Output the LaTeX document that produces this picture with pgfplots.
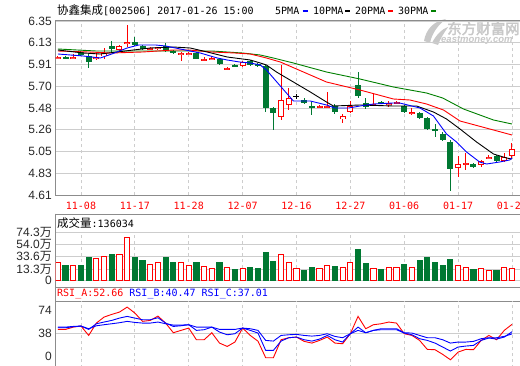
\documentclass[border=0pt]{standalone}
\usepackage{fontspec}
\setmainfont{Liberation Sans}
\newfontfamily\cjk{Noto Sans CJK SC}
\newfontfamily\cjkb{Noto Sans CJK SC}[FakeBold=2.5]
\newfontfamily\mono{DejaVu Sans Mono}
\usepackage{pgfplots}
\usepackage{pgfplotstable}
\pgfplotsset{compat=1.18}
\definecolor{cred}{RGB}{255,0,0}
\definecolor{cgreen}{RGB}{0,120,50}
\definecolor{frame}{RGB}{140,140,140}
\definecolor{gridc}{RGB}{205,205,205}
\definecolor{magreen}{RGB}{0,128,0}
\definecolor{mablue}{RGB}{0,0,255}
\definecolor{txt}{RGB}{40,40,40}
\definecolor{wm}{RGB}{200,200,200}

\pgfplotstableread{
i o c h l
0 5.98 5.99 6.00 5.97
2 5.98 5.99 6.02 5.97
5 5.97 5.99 6.03 5.96
6 6.00 6.03 6.08 5.97
8 6.06 6.10 6.11 6.04
9 6.12 6.14 6.31 6.09
12 6.07 6.08 6.09 6.06
13 6.07 6.09 6.09 6.06
16 6.02 6.03 6.04 5.95
17 6.02 6.03 6.04 6.01
19 5.96 5.97 5.99 5.95
20 5.97 5.98 6.00 5.96
22 5.87 5.88 5.89 5.86
24 5.90 5.94 5.95 5.89
29 5.39 5.56 5.91 5.36
30 5.51 5.58 5.68 5.46
34 5.49 5.50 5.51 5.48
35 5.49 5.50 5.64 5.48
37 5.37 5.40 5.42 5.33
38 5.44 5.50 5.55 5.43
41 5.51 5.52 5.63 5.50
43 5.52 5.53 5.55 5.49
44 5.53 5.54 5.55 5.52
46 5.42 5.44 5.48 5.41
52 4.88 4.92 5.00 4.79
53 4.92 4.93 5.03 4.86
55 4.91 4.95 4.96 4.89
56 4.98 4.99 5.01 4.97
58 4.95 4.99 5.03 4.94
59 5.00 5.07 5.13 4.98
}\up
\pgfplotstableread{
i o c h l
1 5.99 5.98 6.00 5.97
3 6.04 6.01 6.05 6.00
4 6.00 5.94 6.02 5.88
7 6.10 6.07 6.15 6.04
10 6.14 6.11 6.19 6.10
11 6.10 6.07 6.11 6.06
14 6.10 6.05 6.13 6.04
15 6.05 6.03 6.06 6.02
18 6.03 5.97 6.04 5.97
21 5.97 5.92 5.98 5.91
23 5.91 5.90 5.92 5.89
25 5.95 5.91 5.96 5.90
26 5.92 5.90 5.93 5.89
27 5.90 5.48 5.91 5.44
28 5.48 5.43 5.49 5.26
32 5.56 5.53 5.58 5.52
33 5.50 5.49 5.54 5.41
36 5.50 5.44 5.52 5.42
39 5.71 5.60 5.84 5.58
40 5.53 5.49 5.58 5.47
42 5.54 5.53 5.55 5.52
45 5.50 5.44 5.51 5.43
47 5.43 5.38 5.44 5.37
48 5.38 5.27 5.39 5.26
49 5.27 5.26 5.32 5.19
50 5.22 5.16 5.24 5.15
51 5.14 4.87 5.16 4.65
54 4.92 4.89 4.93 4.88
57 5.00 4.95 5.01 4.94
}\dn
\pgfplotstableread{
i o c h l
31 5.60 5.60 5.62 5.57
}\flat

\pgfplotstableread{
i v
0 24.9
2 19.4
5 31.0
6 34.4
8 38.2
9 65.9
12 21.6
13 24.4
16 24.4
17 19.4
19 17.7
20 14.4
22 16.1
24 14.4
29 38.2
30 23.8
31 14.4
34 13.3
35 19.4
37 15.0
38 24.9
41 14.4
43 16.1
44 15.0
46 16.6
52 18.3
53 15.0
55 13.3
56 11.6
58 16.6
59 13.6
}\vup
\pgfplotstableread{
i v
1 19.9
3 19.9
4 31.6
7 36.6
10 31.6
11 26.6
14 31.6
15 24.9
18 23.3
21 24.9
23 12.7
25 15.0
26 13.3
27 40.5
28 25.5
32 11.6
33 15.0
36 17.2
39 44.9
40 22.2
42 12.2
45 20.5
47 26.6
48 33.2
49 24.9
50 18.3
51 29.9
54 12.2
57 10.5
}\vdn

\pgfplotstableread{
i a b c
0 44.4 48.2 47.1
1 44.4 48.2 47.1
2 48.2 49.3 48.8
3 49.9 49.9 49.9
4 34.5 44.4 45.5
5 54.8 53.7 50.4
6 64.7 56.5 52.1
7 69.1 59.2 53.7
8 72.9 63.0 55.4
9 81.1 65.8 57.6
10 71.3 63.0 55.9
11 57.6 60.3 54.8
12 59.2 60.3 54.8
13 66.3 63.6 56.5
14 54.8 54.8 53.7
15 38.9 49.3 51.5
16 42.8 50.4 51.5
17 46.6 52.1 52.1
18 27.4 42.8 48.2
19 27.4 43.9 48.2
20 38.9 48.2 48.2
21 21.9 40.0 44.4
22 16.4 35.6 44.4
23 23.6 37.3 44.4
24 46.6 46.6 46.6
25 34.5 42.8 45.5
26 25.0 38.4 42.8
27 -2.2 9.9 26.3
28 -2.2 9.9 25.2
29 27.4 25.2 34.5
30 30.7 30.7 35.6
31 31.8 31.8 36.2
32 24.7 27.4 34.5
33 21.9 25.2 33.4
34 26.3 28.5 34.5
35 31.8 34.5 37.3
36 21.9 27.4 32.9
37 20.8 23.6 30.7
38 37.3 37.3 37.3
39 65.8 48.2 42.8
40 45.5 38.9 38.9
41 52.1 42.8 42.8
42 53.7 43.9 45.5
43 56.5 43.9 45.5
44 54.8 43.9 45.5
45 37.3 38.4 38.9
46 34.5 35.6 38.4
47 26.3 29.1 34.5
48 11.5 26.3 30.7
49 11.0 21.9 30.7
50 3.3 15.4 27.4
51 -5.5 8.8 21.9
52 7.1 15.4 23.6
53 11.5 17.0 23.6
54 11.0 18.1 24.7
55 26.3 26.3 29.1
56 34.5 30.2 30.7
57 27.4 28.5 30.7
58 42.8 31.8 32.9
59 52.66 40.47 37.01
}\rsi

\pgfplotsset{
  panel/.style={
    scale only axis, width=466pt,
    xmin=-0.312, xmax=60.24,
    axis line style={draw=frame, line width=1pt},
    tick style={draw=none},
    xtick={3,10,...,59},
    xmajorgrids,
    x grid style={draw=gridc, dash pattern=on 3pt off 3pt, line width=0.8pt},
    y grid style={draw=gridc, line width=0.8pt},
    yticklabel style={anchor=east, inner sep=0pt, xshift=-3.5pt, font=\fontsize{12}{14}\selectfont, text=txt},
  },
  wick/.style={only marks, mark=*, mark size=0pt, mark options={draw=none,fill=none},
    error bars/.cd, y dir=both, y explicit, error mark=none,
    error bar style={line width=1pt, draw=#1}},
  body/.style 2 args={only marks, mark=*, mark size=0pt, mark options={draw=none,fill=none},
    error bars/.cd, y dir=both, y explicit, error mark=none,
    error bar style={line width=#2, draw=#1}},
}

\begin{document}
\begin{tikzpicture}[x=1pt,y=1pt]
\fill[white] (0,0) rectangle (520,365);
% watermark
\fill[wm] (424,324) .. controls (426,336) and (434,344) .. (446,346) .. controls (438,340) and (432,332) .. (430,322) -- cycle;
\fill[wm] (432,322) .. controls (436,330) and (442,336) .. (448,338) .. controls (444,332) and (440,326) .. (438,320) -- cycle;
\node[anchor=west, inner sep=0pt, text=wm, font=\cjkb\fontsize{14.5}{15}\selectfont] at (447,336.5) {东方财富网};
\node[anchor=west, inner sep=0pt, text=wm, font=\bfseries\itshape\fontsize{9.5}{10}\selectfont] at (441,325) {eastmoney.com};
% title
\node[anchor=west, inner sep=0pt] at (57,355) {{\cjk\fontsize{11.5}{12}\selectfont 协鑫集成}{\mono\fontsize{10}{12}\selectfont[002506] 2017-01-26 15:00}};
\node[anchor=west, inner sep=0pt, font=\mono\fontsize{10}{12}\selectfont] at (275,354.5) {5PMA};
\node[anchor=west, inner sep=0pt, font=\mono\fontsize{10}{12}\selectfont] at (313,354.5) {10PMA};
\node[anchor=west, inner sep=0pt, font=\mono\fontsize{10}{12}\selectfont] at (355,354.5) {20PMA};
\node[anchor=west, inner sep=0pt, font=\mono\fontsize{10}{12}\selectfont] at (398,354.5) {30PMA};
\draw[mablue, line width=2pt] (302.5,354) -- (307.5,354);
\draw[black, line width=2pt] (345,354) -- (350,354);
\draw[cred, line width=2pt] (388,354) -- (393,354);
\draw[magreen, line width=2pt] (431,354) -- (436,354);

% ---------- panel frames ----------
\draw[frame, line width=1pt] (55.5,151) -- (522,151);
\draw[frame, line width=1pt] (55.5,133) -- (522,133);
\draw[frame, line width=1pt] (55.5,78) -- (522,78);
\draw[frame, line width=1pt] (55.5,64) -- (522,64);
\draw[frame, line width=1pt] (55.5,151.5) -- (55.5,-2);
\node[anchor=west, inner sep=0pt] at (57,142) {{\cjk\fontsize{11.5}{12}\selectfont 成交量}{\mono\fontsize{10}{12}\selectfont :136034}};
\node[anchor=west, inner sep=0pt, font=\mono\fontsize{10}{12}\selectfont] at (57,71) {\textcolor{cred}{RSI\_A:52.66} \textcolor{mablue}{RSI\_B:40.47} \textcolor{mablue}{RSI\_C:37.01}};
% RSI tick labels
\node[anchor=east, inner sep=0pt, text=txt, font=\fontsize{12}{14}\selectfont] at (52,54.3) {74};
\node[anchor=east, inner sep=0pt, text=txt, font=\fontsize{12}{14}\selectfont] at (52,31.7) {38};
\node[anchor=east, inner sep=0pt, text=txt, font=\fontsize{12}{14}\selectfont] at (52,8.6) {0};
\draw[gridc, line width=0.8pt] (56,31.7) -- (522,31.7);

% ---------- price panel ----------
\begin{axis}[panel, at={(55.5pt,170pt)}, anchor=south west, height=175pt,
  ymin=4.61, ymax=6.36,
  ymajorgrids,
  ytick={4.61,4.8275,5.045,5.2625,5.48,5.6975,5.915,6.1325,6.35},
  yticklabels={4.61,4.83,5.05,5.26,5.48,5.70,5.91,6.13,6.35},
  xticklabels={11-08,11-17,11-28,12-07,12-16,12-27,01-06,01-17,01-26},
  xticklabel style={anchor=center, inner sep=0pt, yshift=-10.5pt, font=\mono\fontsize{10}{12}\selectfont, text=cred},
]
% wicks
\addplot[wick=cred] table[x=i, y expr={(\thisrow{h}+\thisrow{l})/2}, y error expr={(\thisrow{h}-\thisrow{l})/2}]{\up};
\addplot[wick=cgreen] table[x=i, y expr={(\thisrow{h}+\thisrow{l})/2}, y error expr={(\thisrow{h}-\thisrow{l})/2}]{\dn};
\addplot[wick=black] table[x=i, y expr={(\thisrow{h}+\thisrow{l})/2}, y error expr={(\thisrow{h}-\thisrow{l})/2}]{\flat};
% bodies
\addplot[body={cred}{6pt}] table[x=i, y expr={(\thisrow{o}+\thisrow{c})/2}, y error expr={max(abs(\thisrow{c}-\thisrow{o})/2,0.006)}]{\up};
\addplot[body={white}{4pt}] table[x=i, y expr={(\thisrow{o}+\thisrow{c})/2}, y error expr={max(abs(\thisrow{c}-\thisrow{o})/2-0.011,0.0001)}]{\up};
\addplot[body={cgreen}{6pt}] table[x=i, y expr={(\thisrow{o}+\thisrow{c})/2}, y error expr={max(abs(\thisrow{c}-\thisrow{o})/2,0.006)}]{\dn};
\addplot[body={black}{6pt}] table[x=i, y expr={(\thisrow{o}+\thisrow{c})/2}, y error expr={max(abs(\thisrow{c}-\thisrow{o})/2,0.005)}]{\flat};
% moving averages
\addplot[magreen, line width=0.9pt] coordinates {(0,6.07)(5,6.05)(10,6.05)(15,6.05)(20,6.05)(24,6.03)(26.3,6.01)(28,5.98)(30.6,5.93)(34.9,5.84)(39.25,5.77)(43.6,5.69)(47.9,5.63)(50,5.58)(52.7,5.47)(56.6,5.36)(59,5.32)};
\addplot[cred, line width=0.9pt] coordinates {(0,6.05)(4,6.04)(7,6.03)(11,6.04)(15,6.06)(17,6.06)(20,6.04)(23,6.03)(25,6.02)(27.1,5.98)(28.9,5.94)(30.4,5.89)(34.9,5.74)(39.25,5.66)(43.6,5.57)(45.75,5.56)(47.9,5.52)(50.1,5.46)(52.25,5.35)(56.6,5.26)(59,5.21)};
\addplot[black, line width=0.9pt] coordinates {(0,6.06)(3.3,6.03)(5.5,6.02)(7.7,6.04)(9.8,6.06)(12,6.08)(15,6.09)(17.2,6.08)(19.4,6.04)(22,5.99)(24,5.97)(25,5.96)(26.3,5.93)(27.1,5.91)(28.4,5.84)(30.6,5.74)(32.8,5.64)(34.9,5.54)(35.8,5.50)(39.25,5.51)(43.6,5.50)(46.6,5.50)(48.8,5.44)(50.5,5.37)(52.25,5.27)(54.4,5.14)(56.6,5.02)(58.3,4.98)(59,4.97)};
\addplot[mablue, line width=0.9pt] coordinates {(0,6.02)(3.3,6.00)(5.5,5.98)(7,6.02)(9,6.08)(10.5,6.11)(12.7,6.11)(14,6.10)(15.9,6.07)(18.5,6.03)(20.7,5.98)(22,5.96)(23.6,5.94)(25,5.93)(26.3,5.91)(27.1,5.86)(28.9,5.70)(30.6,5.55)(32.8,5.55)(34.9,5.51)(36,5.48)(37.8,5.48)(39.25,5.50)(41,5.52)(43.6,5.53)(44.4,5.53)(47.05,5.48)(48.8,5.40)(50.5,5.22)(51.8,5.14)(53.1,5.04)(54.8,4.94)(55.7,4.92)(57.4,4.94)(58.7,4.96)(59,4.98)};
\end{axis}

% ---------- volume panel ----------
\begin{axis}[panel, at={(55.5pt,85pt)}, anchor=south west, height=48pt,
  axis line style={draw=none},
  ymin=0, ymax=79.8,
  ymajorgrids,
  ytick={0,18.3,38.6,59.0,79.3},
  yticklabels={0,{13.3{\cjk 万}},{33.6{\cjk 万}},{54.0{\cjk 万}},{74.3{\cjk 万}}},
  xticklabels={},
]
\addplot[ybar, bar width=5.2pt, bar shift=0pt, draw=cred, fill=white, line width=1pt] table[x=i, y expr={\thisrow{v}+5}]{\vup};
\addplot[ybar, bar width=5.2pt, bar shift=0pt, draw=cgreen, fill=cgreen, line width=1pt] table[x=i, y expr={\thisrow{v}+5}]{\vdn};
\end{axis}

% ---------- RSI panel ----------
\begin{axis}[panel, at={(55.5pt,-3pt)}, anchor=south west, height=67pt,
  axis line style={draw=none},
  ymin=-19.08, ymax=91.12,
  ytick=\empty,
  xticklabels={},
]
\addplot[cred, line width=0.9pt] table[x=i, y=a]{\rsi};
\addplot[mablue, line width=0.9pt] table[x=i, y=b]{\rsi};
\addplot[mablue, line width=0.9pt] table[x=i, y=c]{\rsi};
\end{axis}
\pgfresetboundingbox
\useasboundingbox (0,0) rectangle (520,365);
\end{tikzpicture}
\end{document}
